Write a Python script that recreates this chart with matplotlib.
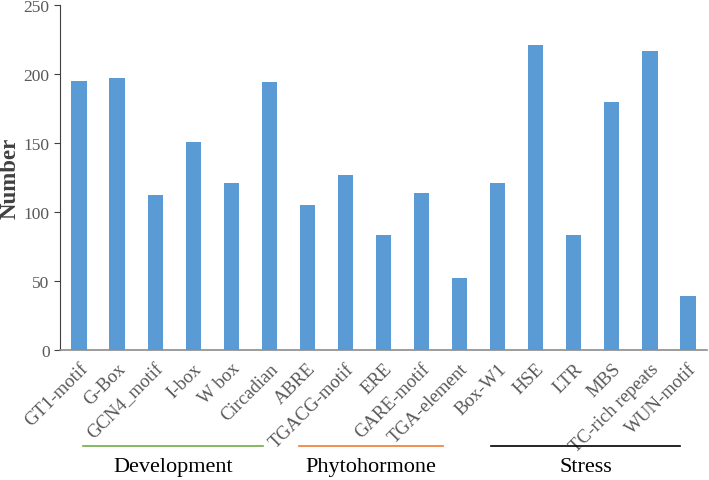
import numpy as np
import matplotlib.pyplot as plt
from matplotlib.transforms import blended_transform_factory

plt.rcParams['font.family'] = ['Liberation Serif', 'DejaVu Serif']

elements = ['GT1-motif', 'G-Box', 'GCN4_motif', 'I-box', 'W box', 'Circadian',
            'ABRE', 'TGACG-motif', 'ERE', 'GARE-motif', 'TGA-element',
            'Box-W1', 'HSE', 'LTR', 'MBS', 'TC-rich repeats', 'WUN-motif']
counts = [195, 197, 112, 151, 121, 194,
          105, 127, 83, 114, 52,
          121, 221, 83, 180, 217, 39]
groups = ['Development', 'Phytohormone', 'Stress']
group_colors = ['#70AD47', '#ED7D31', '#000000']
group_spans = [(0.1, 4.83), (5.78, 9.56), (10.82, 15.79)]

fig = plt.figure(figsize=(7.09, 4.81), dpi=100)
ax = fig.add_axes([60/709, 1-351/481, 647/709, 345/481])

x = np.arange(len(elements))
ax.bar(x, counts, width=0.4, color='#5B9BD5')
ax.set_xlim(-0.5, len(elements)-0.5)
ax.set_ylim(0, 250)
ax.set_yticks(range(0, 251, 50))
ax.set_xticks(x)
ax.set_xticklabels(elements, rotation=45, ha='right', rotation_mode='anchor',
                   fontsize=13.5, color='#595959')
ax.tick_params(axis='x', length=0, pad=7)
ax.tick_params(axis='y', labelsize=12.5, colors='#595959', length=4, width=0.8)
ax.tick_params(axis='y', color='#404040')
for s in ['top', 'right']:
    ax.spines[s].set_visible(False)
ax.spines['left'].set_color('#404040')
ax.spines['bottom'].set_color('#8c8c8c')
ax.spines['bottom'].set_linewidth(1.2)
ax.set_ylabel('Number', fontsize=16.5, fontweight='bold', color='#404040', labelpad=2)

trans = blended_transform_factory(ax.transData, fig.transFigure)
for name, c, (a, b) in zip(groups, group_colors, group_spans):
    ax.plot([a, b], [1-447/481]*2, color=c, lw=1.2, transform=trans, clip_on=False)
    ax.text((a+b)/2, 1-468/481, name, transform=trans, ha='center', va='center',
            fontsize=16, color='#000000')

fig.savefig('out.png', dpi=100)
